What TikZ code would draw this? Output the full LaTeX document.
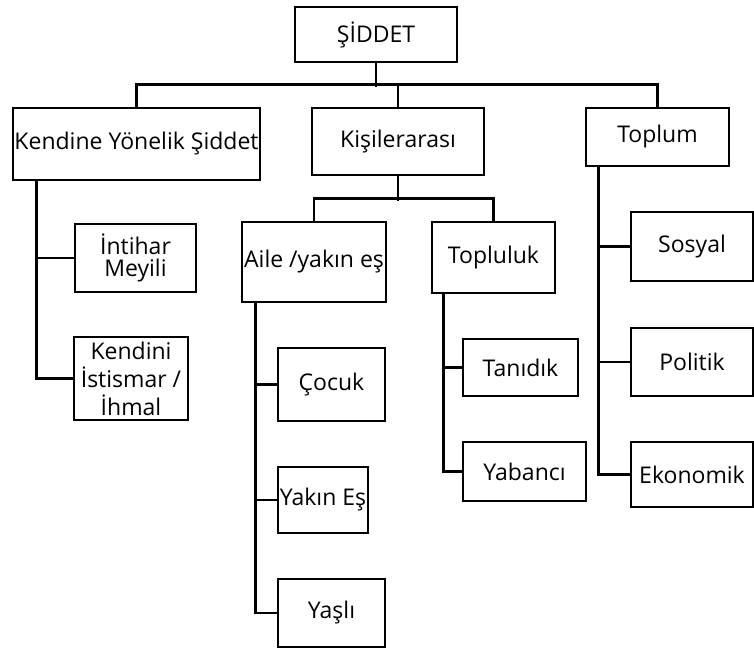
\documentclass[tikz,border=0pt]{standalone}
\usepackage{fontspec}
\setmainfont{Open Sans}
\usetikzlibrary{positioning}

\begin{document}
\begin{tikzpicture}[
  x=1pt, y=1pt,
  every node/.style={draw, line width=2.6pt, align=center, inner sep=0pt, font=\fontsize{23}{29}\selectfont},
  box/.style 2 args={minimum width=#1pt, minimum height=#2pt},
  conn/.style={draw, line width=2.6pt}
]
\useasboundingbox (0,0) rectangle (754,648);

\node[box={162}{55}] (siddet) at (376,613.5) {ŞİDDET};

\node[box={247}{72}] (kendine) at (136.5,504) {Kendine Yönelik Şiddet};
\node[box={172}{67}] (kisiler) at (398,506.5) {Kişilerarası};
\node[box={143}{58}] (toplum) at (657.5,511) {Toplum};

\node[box={121}{68}] (intihar) at (135.5,390) {İntihar\\[-7pt]Meyili};
\node[box={114}{83}] (istismar) at (131,269.5) {Kendini\\[-1pt]İstismar /\\[-1pt]İhmal};

\node[box={144}{80}] (aile) at (314,386) {Aile /yakın eş};
\node[box={123}{71}] (topluluk) at (493.5,390.5) {Topluluk};

\node[box={107}{73}] (cocuk) at (331.5,263.5) {Çocuk};
\node[box={90}{66}] (yakin) at (323,148) {Yakın Eş};
\node[box={107}{68}] (yasli) at (331.5,35) {Yaşlı};

\node[box={115}{57}] (tanidik) at (520.5,280.5) {Tanıdık};
\node[box={123}{59}] (yabanci) at (524.5,176.5) {Yabancı};

\node[box={122}{69}] (sosyal) at (692,401.5) {Sosyal};
\node[box={122}{68}] (politik) at (692,286) {Politik};
\node[box={122}{65}] (ekonomik) at (692,173.5) {Ekonomik};

\draw[conn] (siddet.south) -- ++(0,-24);
\draw[conn] (kendine.north) -- ++(0,22) -| (toplum.north);
\draw[conn] (kisiler.north) -- ++(0,22);

\draw[conn] (kisiler.south) -- ++(0,-25);
\draw[conn] (aile.north) -- ++(0,22) -| (topluluk.north);

\draw[conn] (kendine.south west) ++(25,0) |- (intihar.west);
\draw[conn] (kendine.south west) ++(25,0) |- (istismar.west);

\draw[conn] (aile.south west) ++(15,0) |- (cocuk.west);
\draw[conn] (aile.south west) ++(15,0) |- (yakin.west);
\draw[conn] (aile.south west) ++(15,0) |- (yasli.west);

\draw[conn] (topluluk.south west) ++(13,0) |- (tanidik.west);
\draw[conn] (topluluk.south west) ++(13,0) |- (yabanci.west);

\draw[conn] (toplum.south west) ++(14,0) |- (sosyal.west);
\draw[conn] (toplum.south west) ++(14,0) |- (politik.west);
\draw[conn] (toplum.south west) ++(14,0) |- (ekonomik.west);
\end{tikzpicture}
\end{document}
